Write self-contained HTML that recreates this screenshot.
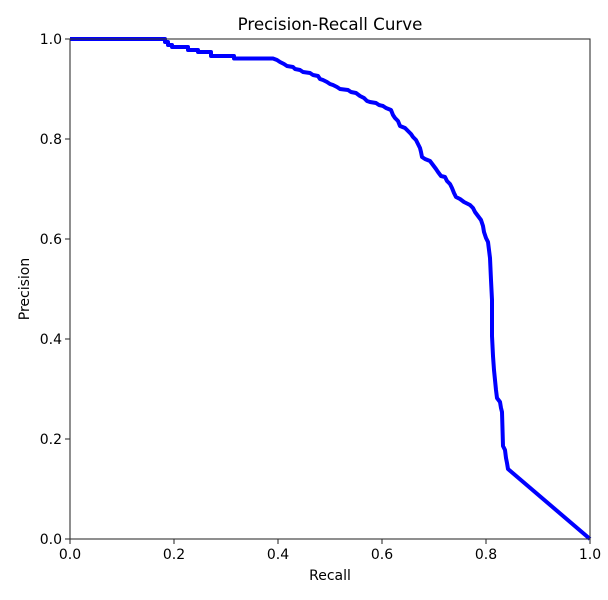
<!DOCTYPE html>
<html><head><meta charset="utf-8"><style>
html,body{margin:0;padding:0;background:#fff;}
svg{display:block;}
text{font-family:"DejaVu Sans","Liberation Sans",sans-serif;fill:#000;}
</style></head><body>
<svg width="608" height="600" viewBox="0 0 608 600" xmlns="http://www.w3.org/2000/svg">
<rect width="608" height="600" fill="#fff"/>
<!-- curve -->
<path fill="none" stroke="#0000ff" stroke-width="4" stroke-linejoin="round" stroke-linecap="butt" d="M70,39 L165,39 L165,42 L168,42 L168,45 L172,45 L172,47 L188,47 L188,50 L198,50 L198,52 L211,52 L211,56 L234,56 L234,58.5 L273,58.5 L277,60 L280,62 L284,64 L287,66 L293,67 L295,69 L300,70 L303,72 L310,73 L313,75 L318,76 L320,79 L323,80 L327,82 L330,84 L333,85 L337,87 L340,89 L348,90 L351,92 L356,93 L360,96 L364,98 L367,101 L370,102 L376,103 L379,105 L383,106 L386,108 L391,110 L393,115 L395,118 L398,121 L400,126 L405,128 L408,131 L411,134 L413,137 L416,140 L418,144 L420,148 L421,152 L422,157 L425,159 L430,161 L433,165 L436,169 L438,172 L441,176 L445,177 L447,181 L450,184 L452,188 L454,193 L456,197 L460,199 L464,202 L470,205 L473,208 L475,212 L478,216 L481,220 L483,226 L484,232 L486,238 L488,242 L489,250 L490,258 L491,280 L492,300 L492,336 L493,356 L494,370 L495,380 L496,390 L497,398 L500,402 L501,408 L502,412 L503,446 L505,450 L506,458 L507,463 L508,469 L590,539"/>
<!-- axes frame -->
<rect x="70" y="39" width="520" height="500" fill="none" stroke="#333" stroke-width="1.1"/>
<!-- ticks -->
<g stroke="#333" stroke-width="1.1">
<line x1="70" y1="539" x2="70" y2="544"/>
<line x1="174" y1="539" x2="174" y2="544"/>
<line x1="278" y1="539" x2="278" y2="544"/>
<line x1="382" y1="539" x2="382" y2="544"/>
<line x1="486" y1="539" x2="486" y2="544"/>
<line x1="590" y1="539" x2="590" y2="544"/>
<line x1="65" y1="539" x2="70" y2="539"/>
<line x1="65" y1="439" x2="70" y2="439"/>
<line x1="65" y1="339" x2="70" y2="339"/>
<line x1="65" y1="239" x2="70" y2="239"/>
<line x1="65" y1="139" x2="70" y2="139"/>
<line x1="65" y1="39" x2="70" y2="39"/>
</g>
<g font-size="14" text-anchor="middle">
<text x="70" y="559">0.0</text>
<text x="174" y="559">0.2</text>
<text x="278" y="559">0.4</text>
<text x="382" y="559">0.6</text>
<text x="486" y="559">0.8</text>
<text x="590" y="559">1.0</text>
</g>
<g font-size="14" text-anchor="end">
<text x="62" y="544">0.0</text>
<text x="62" y="444">0.2</text>
<text x="62" y="344">0.4</text>
<text x="62" y="244">0.6</text>
<text x="62" y="144">0.8</text>
<text x="62" y="44">1.0</text>
</g>
<text x="330" y="580" font-size="14" text-anchor="middle">Recall</text>
<text x="0" y="0" font-size="14" text-anchor="middle" transform="translate(29,289) rotate(-90)">Precision</text>
<text x="330" y="30" font-size="16.7" text-anchor="middle">Precision-Recall Curve</text>
</svg>
</body></html>
